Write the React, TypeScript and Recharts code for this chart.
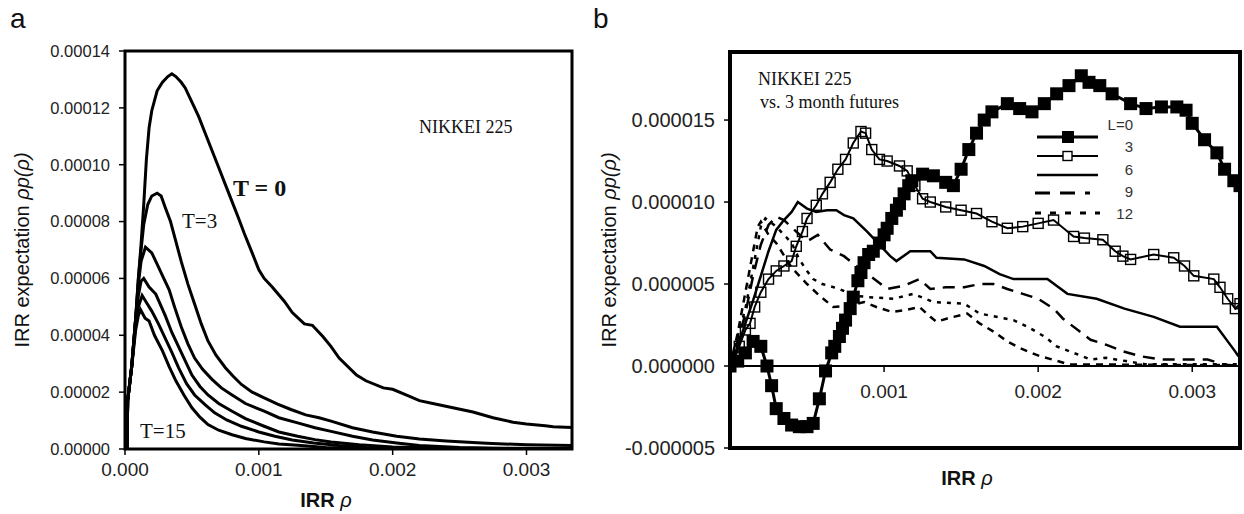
import { Legend, Line, LineChart, ReferenceArea, ReferenceLine, XAxis, YAxis } from "recharts";

// panel a: x in units of 0.001, y in units of 0.00001
const T0: [number, number][] = [[0.015, 0], [0.02, 1.7], [0.05, 2.9], [0.08, 4.6], [0.1, 6.0], [0.12, 7.2], [0.14, 8.6], [0.16, 10.2], [0.18, 11.3], [0.2, 11.9], [0.24, 12.6], [0.28, 12.9], [0.32, 13.1], [0.35, 13.2], [0.38, 13.1], [0.42, 12.9], [0.45, 12.7], [0.5, 12.2], [0.55, 11.7], [0.6, 11.1], [0.65, 10.5], [0.7, 9.9], [0.75, 9.3], [0.8, 8.7], [0.85, 8.1], [0.89, 7.6], [0.95, 6.9], [1.0, 6.3], [1.04, 6.0], [1.1, 5.7], [1.19, 5.2], [1.25, 4.8], [1.34, 4.4], [1.4, 4.35], [1.48, 3.95], [1.54, 3.6], [1.6, 3.2], [1.73, 2.6], [1.8, 2.4], [1.93, 2.15], [2.0, 2.1], [2.1, 1.9], [2.2, 1.7], [2.3, 1.6], [2.45, 1.45], [2.6, 1.3], [2.75, 1.1], [2.9, 0.94], [3.0, 0.88], [3.14, 0.82], [3.2, 0.78], [3.34, 0.76]];
const T3: [number, number][] = [[0.015, 0], [0.02, 1.7], [0.05, 2.9], [0.08, 4.6], [0.1, 6.0], [0.12, 7.0], [0.14, 7.9], [0.17, 8.6], [0.2, 8.9], [0.24, 9.0], [0.27, 8.9], [0.3, 8.5], [0.34, 8.0], [0.38, 7.3], [0.42, 6.6], [0.47, 5.8], [0.52, 5.1], [0.57, 4.4], [0.62, 3.8], [0.68, 3.3], [0.75, 2.86], [0.81, 2.55], [0.87, 2.27], [0.95, 2.0], [1.04, 1.8], [1.14, 1.58], [1.24, 1.39], [1.35, 1.2], [1.45, 1.1], [1.54, 0.98], [1.7, 0.75], [1.85, 0.6], [2.03, 0.45], [2.2, 0.35], [2.4, 0.28], [2.7, 0.2], [3.0, 0.15], [3.34, 0.12]];
const T6: [number, number][] = [[0.015, 0], [0.02, 1.7], [0.05, 2.9], [0.08, 4.6], [0.1, 5.8], [0.12, 6.6], [0.153, 7.1], [0.2, 6.9], [0.24, 6.5], [0.28, 6.1], [0.33, 5.6], [0.37, 5.0], [0.42, 4.3], [0.47, 3.7], [0.52, 3.2], [0.58, 2.8], [0.65, 2.45], [0.72, 2.15], [0.8, 1.9], [0.9, 1.6], [1.04, 1.33], [1.15, 1.1], [1.29, 0.92], [1.42, 0.75], [1.54, 0.62], [1.7, 0.45], [1.85, 0.32], [2.03, 0.21], [2.2, 0.12], [2.5, 0.05], [2.8, 0.03], [3.34, 0.02]];
const T9: [number, number][] = [[0.015, 0], [0.02, 1.7], [0.05, 2.9], [0.08, 4.6], [0.1, 5.4], [0.12, 5.9], [0.14, 6.0], [0.18, 5.7], [0.23, 5.45], [0.3, 4.7], [0.35, 4.1], [0.4, 3.6], [0.45, 3.1], [0.5, 2.6], [0.56, 2.2], [0.62, 1.9], [0.7, 1.6], [0.8, 1.33], [0.9, 1.07], [1.04, 0.8], [1.15, 0.6], [1.29, 0.45], [1.42, 0.33], [1.54, 0.25], [1.75, 0.15], [2.0, 0.07], [2.4, 0.03], [3.34, 0.01]];
const T12: [number, number][] = [[0.015, 0], [0.02, 1.7], [0.05, 2.9], [0.08, 4.4], [0.1, 5.0], [0.128, 5.4], [0.16, 5.15], [0.2, 4.85], [0.25, 4.4], [0.3, 3.9], [0.35, 3.4], [0.4, 2.86], [0.46, 2.3], [0.52, 1.9], [0.6, 1.55], [0.67, 1.27], [0.76, 1.02], [0.87, 0.8], [1.0, 0.6], [1.12, 0.45], [1.25, 0.32], [1.41, 0.21], [1.6, 0.12], [1.8, 0.05], [2.2, 0.02], [3.34, 0.01]];
const T15: [number, number][] = [[0.015, 0], [0.02, 1.7], [0.05, 2.9], [0.08, 4.2], [0.1, 4.7], [0.116, 4.9], [0.15, 4.6], [0.18, 4.5], [0.22, 4.0], [0.28, 3.45], [0.33, 2.9], [0.38, 2.4], [0.44, 1.9], [0.5, 1.45], [0.56, 1.12], [0.62, 0.86], [0.7, 0.66], [0.8, 0.5], [0.9, 0.37], [1.04, 0.25], [1.15, 0.18], [1.29, 0.13], [1.5, 0.05], [1.8, 0.02], [3.34, 0.01]];

// panel b: x in units of 0.001, y in units of 0.000001
const L0: [number, number][] = [[0, 0], [0.05, 0.3], [0.1, 0.8], [0.15, 1.5], [0.2, 1.2], [0.24, 0], [0.27, -1.2], [0.3, -2.6], [0.35, -3.2], [0.4, -3.6], [0.45, -3.7], [0.5, -3.7], [0.54, -3.5], [0.58, -2.0], [0.62, -0.3], [0.66, 0.8], [0.68, 1.2], [0.71, 1.8], [0.73, 2.3], [0.75, 2.8], [0.78, 3.5], [0.8, 4.2], [0.83, 5.2], [0.85, 5.7], [0.87, 6.3], [0.9, 6.8], [0.93, 7.0], [0.97, 7.5], [1.0, 8.0], [1.02, 8.4], [1.05, 9.0], [1.08, 9.5], [1.1, 9.9], [1.13, 10.5], [1.16, 11.0], [1.18, 11.3], [1.25, 11.7], [1.32, 11.6], [1.4, 11.2], [1.45, 11.0], [1.5, 12.0], [1.55, 13.2], [1.6, 14.2], [1.65, 15.0], [1.7, 15.5], [1.8, 16.0], [1.88, 15.7], [1.96, 15.5], [2.04, 16.0], [2.12, 16.6], [2.2, 17.1], [2.28, 17.7], [2.33, 17.3], [2.4, 17.1], [2.48, 16.6], [2.6, 16.0], [2.7, 15.7], [2.8, 15.8], [2.9, 15.8], [2.96, 15.6], [3.0, 14.8], [3.08, 13.8], [3.16, 13.0], [3.21, 12.0], [3.27, 11.3], [3.31, 11.0]];
const L3: [number, number][] = [[0, 0], [0.03, 0.5], [0.06, 1.2], [0.1, 2.2], [0.13, 2.6], [0.16, 3.6], [0.2, 4.5], [0.25, 5.3], [0.3, 5.8], [0.35, 6.1], [0.4, 6.4], [0.43, 7.3], [0.47, 8.2], [0.5, 9.0], [0.56, 9.8], [0.6, 10.5], [0.65, 11.2], [0.7, 12.0], [0.75, 12.6], [0.8, 13.6], [0.85, 14.3], [0.88, 14.2], [0.92, 13.2], [0.97, 12.6], [1.02, 12.5], [1.1, 12.2], [1.15, 11.9], [1.2, 11.0], [1.25, 10.2], [1.3, 10.0], [1.4, 9.7], [1.5, 9.5], [1.6, 9.3], [1.7, 8.8], [1.8, 8.4], [1.9, 8.5], [2.0, 8.7], [2.1, 8.9], [2.23, 7.9], [2.3, 7.8], [2.42, 7.7], [2.5, 7.0], [2.55, 6.7], [2.6, 6.5], [2.75, 6.8], [2.88, 6.6], [2.95, 6.1], [3.01, 5.5], [3.14, 5.3], [3.18, 4.8], [3.23, 4.1], [3.28, 3.5], [3.31, 3.8]];
const L6: [number, number][] = [[0, 0], [0.05, 1.2], [0.1, 2.6], [0.15, 4.0], [0.2, 5.5], [0.25, 7.0], [0.3, 8.3], [0.35, 8.9], [0.4, 9.4], [0.44, 10.0], [0.5, 9.6], [0.56, 9.4], [0.63, 9.5], [0.69, 9.5], [0.74, 9.2], [0.8, 9.0], [0.89, 8.2], [0.95, 7.6], [1.04, 6.7], [1.08, 6.4], [1.17, 7.0], [1.3, 7.0], [1.34, 6.6], [1.52, 6.5], [1.65, 6.1], [1.75, 5.6], [1.84, 5.3], [2.06, 5.3], [2.19, 4.4], [2.38, 4.1], [2.56, 3.5], [2.75, 3.0], [2.92, 2.4], [3.16, 2.4], [3.27, 1.0], [3.3, 0.6]];
const L9: [number, number][] = [[0, 0], [0.05, 1.5], [0.1, 3.2], [0.15, 5.5], [0.2, 7.4], [0.25, 8.6], [0.3, 9.1], [0.35, 8.9], [0.43, 8.2], [0.5, 7.6], [0.57, 8.0], [0.65, 7.1], [0.74, 6.7], [0.82, 6.1], [0.91, 5.5], [1.02, 4.7], [1.13, 4.9], [1.23, 5.3], [1.3, 4.7], [1.4, 4.8], [1.52, 4.8], [1.62, 5.0], [1.71, 5.0], [1.8, 4.7], [1.9, 4.4], [2.0, 4.1], [2.1, 3.5], [2.16, 2.9], [2.27, 2.1], [2.34, 1.6], [2.44, 1.3], [2.55, 0.9], [2.66, 0.6], [2.8, 0.4], [3.0, 0.4], [3.1, 0.4], [3.2, 0.1], [3.3, 0]];
const L12: [number, number][] = [[0, 0], [0.05, 1.8], [0.1, 3.5], [0.15, 6.0], [0.2, 8.5], [0.23, 9.0], [0.3, 8.5], [0.4, 7.5], [0.45, 6.5], [0.5, 5.8], [0.54, 5.3], [0.6, 5.0], [0.71, 4.7], [0.8, 4.3], [0.9, 4.2], [1.06, 4.1], [1.19, 4.4], [1.32, 3.9], [1.52, 3.8], [1.62, 3.2], [1.84, 2.8], [1.93, 2.4], [2.04, 1.8], [2.12, 1.2], [2.23, 0.8], [2.34, 0.4], [2.44, 0.5], [2.57, 0.3], [2.7, 0.1], [3.3, 0.1]];
const L15: [number, number][] = [[0, 0], [0.05, 2.0], [0.1, 4.5], [0.15, 7.0], [0.18, 8.5], [0.2, 8.8], [0.25, 8.0], [0.3, 7.5], [0.4, 6.0], [0.5, 5.0], [0.58, 4.3], [0.67, 3.6], [0.78, 3.7], [0.87, 3.9], [0.95, 3.6], [1.05, 3.3], [1.13, 3.4], [1.23, 3.6], [1.3, 3.0], [1.34, 2.7], [1.41, 2.9], [1.54, 3.2], [1.62, 2.6], [1.71, 2.1], [1.8, 1.5], [1.88, 1.1], [2.01, 0.6], [2.09, 0.4], [2.2, 0.1], [3.3, 0.05]];

const ticksAX = [0, 0.001, 0.002, 0.003];
const ticksAY = [0, 0.00002, 0.00004, 0.00006, 0.00008, 0.0001, 0.00012, 0.00014];
const ticksBX = [0.001, 0.002, 0.003];
const ticksBY = [-0.000005, 0, 0.000005, 0.00001, 0.000015];
const legendNames = ["L=0", "3", "6", "9", "12"];

const SANS = "'Liberation Sans', Arial, sans-serif";
const SERIF = "'Liberation Serif', 'Times New Roman', serif";

const domAX: [number, number] = [0, 0.00334];
const domAY: [number, number] = [0, 0.00014];
const domBX: [number, number] = [0, 0.00331];
const domBY: [number, number] = [-0.000005, 0.00001915];

// panel b plot box (chart coordinates)
const B_TOP = 52;
const B_H = 396;
const B_ZERO = B_TOP + (B_H * domBY[1]) / (domBY[1] - domBY[0]);

const rows = (pts: [number, number][], sy: number) => pts.map(([x, y]) => ({ x: x * 1e-3, y: y * sy }));

const tSeries = [T0, T3, T6, T9, T12, T15].map((p) => rows(p, 1e-5));

function FilledSquare(p: any) {
  if (p.cx == null || p.cy == null) return <g key={p.index} />;
  return <rect key={p.index} x={p.cx - 6.5} y={p.cy - 6.5} width={13} height={13} fill="#000" />;
}

function OpenSquare(p: any) {
  if (p.cx == null || p.cy == null) return <g key={p.index} />;
  return <rect key={p.index} x={p.cx - 5} y={p.cy - 5} width={10} height={10} fill="none" stroke="#000" strokeWidth={1.4} />;
}

function ZeroTick(p: any) {
  const x = p.x;
  return (
    <g>
      <line x1={x} x2={x} y1={B_ZERO} y2={B_ZERO + 6} stroke="#000" strokeWidth={1.5} />
      <text x={x} y={B_ZERO + 32} textAnchor="middle" fontSize={19} fontFamily={SANS} fill="#222">
        {Number(p.payload.value).toFixed(3)}
      </text>
    </g>
  );
}

function LegendBox() {
  const lineY = [22, 41, 60, 78, 98];
  const labelY = [10, 32, 55, 77, 99];
  return (
    <svg width={120} height={115}>
      <line x1={7} x2={68} y1={lineY[0]} y2={lineY[0]} stroke="#000" strokeWidth={3} />
      <rect x={32} y={lineY[0] - 6} width={12} height={12} fill="#000" />
      <line x1={7} x2={68} y1={lineY[1]} y2={lineY[1]} stroke="#000" strokeWidth={2} />
      <rect x={33} y={lineY[1] - 4.5} width={9} height={9} fill="#fff" stroke="#000" strokeWidth={1.4} />
      <line x1={7} x2={68} y1={lineY[2]} y2={lineY[2]} stroke="#000" strokeWidth={2.5} />
      <line x1={5} x2={60} y1={lineY[3]} y2={lineY[3]} stroke="#000" strokeWidth={3} strokeDasharray="15 10" />
      <line x1={5} x2={70} y1={lineY[4]} y2={lineY[4]} stroke="#000" strokeWidth={3} strokeDasharray="6 9" />
      {legendNames.map((n, i) => (
        <text key={n} x={103} y={labelY[i] + 5} textAnchor="end" fontSize={15} fontFamily={SANS} fill="#333">
          {n}
        </text>
      ))}
    </svg>
  );
}

export default function App() {
  const tick = { fill: "#222", fontFamily: SANS };
  return (
    <div style={{ position: "absolute", left: 0, top: 0, width: 1244, height: 514, background: "#fff" }}>
      <div style={{ position: "absolute", left: 0, top: 0 }}>
        <LineChart width={600} height={514} margin={{ top: 51, right: 28, bottom: 0, left: 0 }}>
          <XAxis type="number" dataKey="x" domain={domAX} ticks={ticksAX} allowDataOverflow height={65} tickFormatter={(v) => Number(v).toFixed(3)} tick={{ ...tick, fontSize: 19 }} tickSize={6} tickMargin={8} tickLine={{ stroke: "#000", strokeWidth: 1.5 }} axisLine={false} />
          <YAxis type="number" dataKey="y" domain={domAY} ticks={ticksAY} allowDataOverflow width={125} tickFormatter={(v) => Number(v).toFixed(5)} tick={{ ...tick, fontSize: 16.5 }} tickSize={6} tickMargin={9} tickLine={{ stroke: "#000", strokeWidth: 1.5 }} axisLine={false} />
          <ReferenceArea x1={domAX[0]} x2={domAX[1]} y1={domAY[0]} y2={domAY[1]} fill="none" stroke="#000" strokeWidth={3} />
          {tSeries.map((d, i) => (
            <Line key={i} data={d} dataKey="y" type="linear" stroke="#000" strokeWidth={3} dot={false} isAnimationActive={false} />
          ))}
        </LineChart>
      </div>
      <div style={{ position: "absolute", left: 600, top: 0 }}>
        <LineChart width={644} height={514} margin={{ top: B_TOP, right: 4, bottom: 0, left: 0 }}>
          <XAxis type="number" dataKey="x" domain={domBX} ticks={ticksBX} interval={0} allowDataOverflow height={514 - B_TOP - B_H} tick={(p: any) => <ZeroTick {...p} />} tickLine={false} axisLine={false} />
          <YAxis type="number" dataKey="y" domain={domBY} ticks={ticksBY} allowDataOverflow width={130} tickFormatter={(v) => Number(v).toFixed(6)} tick={{ ...tick, fontSize: 20 }} tickSize={6} tickMargin={9} tickLine={{ stroke: "#000", strokeWidth: 1.5 }} axisLine={false} />
          <ReferenceLine y={0} stroke="#000" strokeWidth={2} />
          <Line data={rows(L15, 1e-6)} dataKey="y" name="15" legendType="none" stroke="#000" strokeWidth={2.5} strokeDasharray="7 6" dot={false} isAnimationActive={false} />
          <Line data={rows(L12, 1e-6)} dataKey="y" name="12" stroke="#000" strokeWidth={2.5} strokeDasharray="4 6" dot={false} isAnimationActive={false} />
          <Line data={rows(L9, 1e-6)} dataKey="y" name="9" stroke="#000" strokeWidth={2.5} strokeDasharray="12 8" dot={false} isAnimationActive={false} />
          <Line data={rows(L6, 1e-6)} dataKey="y" name="6" stroke="#000" strokeWidth={2.5} dot={false} isAnimationActive={false} />
          <Line data={rows(L3, 1e-6)} dataKey="y" name="3" stroke="#000" strokeWidth={2} dot={OpenSquare} isAnimationActive={false} />
          <Line data={rows(L0, 1e-6)} dataKey="y" name="L=0" stroke="#000" strokeWidth={3} dot={FilledSquare} isAnimationActive={false} />
          <ReferenceArea x1={domBX[0]} x2={domBX[1]} y1={domBY[0]} y2={domBY[1]} fill="none" stroke="#000" strokeWidth={4} />
          <Legend layout="horizontal" verticalAlign="middle" align="center" content={() => <LegendBox />} wrapperStyle={{ position: "absolute", left: 430, top: 115, width: 120, height: 115 }} />
        </LineChart>
      </div>
      <svg width={1244} height={514} style={{ position: "absolute", left: 0, top: 0, pointerEvents: "none" }}>
        <text x={10} y={28} fontSize={28} fontFamily={SANS} fill="#111">a</text>
        <text x={593} y={28} fontSize={28} fontFamily={SANS} fill="#111">b</text>
        <text transform="translate(29,250) rotate(-90)" textAnchor="middle" fontSize={20} fontFamily={SANS} fill="#111">
          IRR expectation <tspan fontStyle="italic">ρp(ρ)</tspan>
        </text>
        <text transform="translate(616,250) rotate(-90)" textAnchor="middle" fontSize={20} fontFamily={SANS} fill="#111">
          IRR expectation <tspan fontStyle="italic">ρp(ρ)</tspan>
        </text>
        <text x={326} y={507} textAnchor="middle" fontSize={20} fontFamily={SANS} fill="#111">
          <tspan fontWeight="bold">IRR</tspan> <tspan fontStyle="italic">ρ</tspan>
        </text>
        <text x={967} y={485} textAnchor="middle" fontSize={20} fontFamily={SANS} fill="#111">
          <tspan fontWeight="bold">IRR</tspan> <tspan fontStyle="italic">ρ</tspan>
        </text>
        <text x={419} y={133} fontSize={18} fontFamily={SERIF} fill="#111">NIKKEI 225</text>
        <text x={233} y={196} fontSize={24} fontWeight="bold" fontFamily={SERIF} fill="#111">T = 0</text>
        <text x={182} y={228} fontSize={21} fontFamily={SERIF} fill="#111">T=3</text>
        <text x={140} y={438} fontSize={21} fontFamily={SERIF} fill="#111">T=15</text>
        <text x={758} y={85} fontSize={18} fontFamily={SERIF} fill="#111">NIKKEI 225</text>
        <text x={760} y={108} fontSize={18} fontFamily={SERIF} fill="#111">vs. 3 month futures</text>
      </svg>
    </div>
  );
}
